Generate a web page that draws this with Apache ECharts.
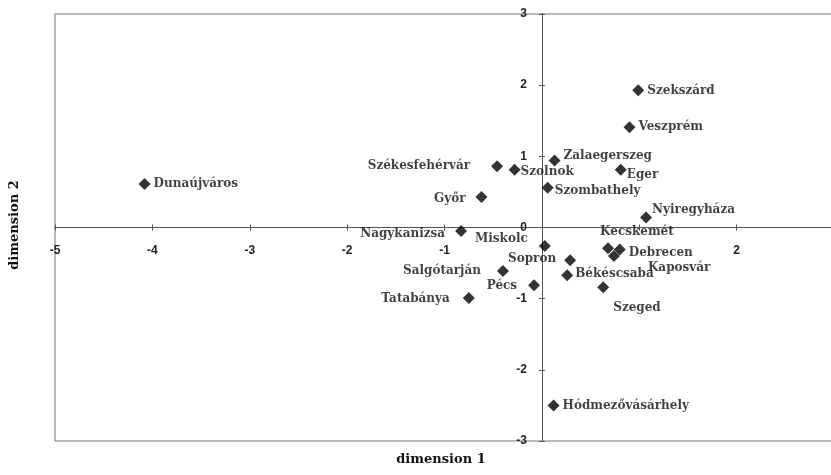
<!DOCTYPE html>
<html>
<head>
<meta charset="utf-8">
<script src="https://cdn.jsdelivr.net/npm/echarts@6/dist/echarts.min.js"></script>
<style>html,body{margin:0;padding:0;background:#fff}#c{width:831px;height:475px}</style>
</head>
<body>
<div id="c"></div>
<script>
const cities = ['Dunaújváros','Szekszárd','Veszprém','Zalaegerszeg','Székesfehérvár','Szolnok','Eger','Szombathely','Győr','Nyiregyháza','Nagykanizsa','Miskolc','Kecskemét','Debrecen','Kaposvár','Sopron','Salgótarján','Békéscsaba','Pécs','Szeged','Tatabánya','Hódmezővásárhely'];
const dim1 = [-4.08, 0.99, 0.90, 0.13, -0.46, -0.28, 0.81, 0.06, -0.62, 1.07, -0.83, 0.03, 0.68, 0.80, 0.74, 0.29, -0.40, 0.26, -0.08, 0.63, -0.75, 0.12];
const dim2 = [0.61, 1.93, 1.41, 0.94, 0.86, 0.81, 0.81, 0.56, 0.43, 0.14, -0.05, -0.26, -0.29, -0.31, -0.40, -0.46, -0.61, -0.67, -0.81, -0.84, -0.99, -2.50];
const xTicks = [-5, -4, -3, -2, -1, 0, 1, 2, 3];
const yTicks = [-3, -2, -1, 0, 1, 2, 3];
// x tick labels hidden behind point labels in the reference
const xHiddenTicks = [0, 1];

// label placement (style only)
const labelPlace = {
  'Dunaújváros': ['right', 1, 0],
  'Szekszárd': ['right', 1, 1],
  'Veszprém': ['right', 1, 0],
  'Zalaegerszeg': ['right', 1, -5],
  'Székesfehérvár': ['left', -19, 0],
  'Szolnok': ['right', -2, 2],
  'Eger': ['right', -2, 5],
  'Szombathely': ['right', -1, 3],
  'Győr': ['left', -8, 2],
  'Nyiregyháza': ['right', -2, -8],
  'Nagykanizsa': ['left', -8, 3],
  'Miskolc': ['left', -9, -7],
  'Kecskemét': ['right', -16, -16],
  'Debrecen': ['right', 1, 3],
  'Kaposvár': ['right', 26, 12],
  'Sopron': ['left', -6, -1],
  'Salgótarján': ['left', -14, 0],
  'Békéscsaba': ['right', 0, -1],
  'Pécs': ['left', -9, 1],
  'Szeged': ['right', 2, 21],
  'Tatabánya': ['left', -11, 1],
  'Hódmezővásárhely': ['right', 1, 0]
};

const W = 831, H = 475;
const G = {left: 55, top: 14, right: -3, bottom: 34};
const gw = W - G.left - G.right, gh = H - G.top - G.bottom;
const xMin = xTicks[0], xMax = xTicks[xTicks.length - 1];
const yMin = yTicks[0], yMax = yTicks[yTicks.length - 1];
// axis crossing at zero: shift axes from grid edges
const xShift = -gh * (0 - yMin) / (yMax - yMin);
const yShift = -gw * (0 - xMin) / (xMax - xMin);

const axisColor = '#555';
const tickFont = {fontFamily: 'Liberation Sans', fontWeight: 'bold', fontSize: 12, color: '#222'};

function xAx(inside, showLabel) {
  return {
    type: 'value', min: xMin, max: xMax, interval: 1, position: 'bottom', offset: xShift,
    axisLine: {onZero: false, lineStyle: {color: axisColor, width: 1}},
    axisTick: {show: true, inside: inside, length: 3, lineStyle: {color: axisColor}},
    axisLabel: showLabel ? Object.assign({margin: 17, hideOverlap: false, showMinLabel: true, showMaxLabel: true,
      formatter: v => (xHiddenTicks.indexOf(v) >= 0 ? '' : String(v))}, tickFont) : {show: false},
    splitLine: {show: false}
  };
}
function yAx(inside, showLabel) {
  return {
    type: 'value', min: yMin, max: yMax, interval: 1, position: 'left', offset: yShift,
    axisLine: {onZero: false, lineStyle: {color: axisColor, width: 1}},
    axisTick: {show: true, inside: inside, length: 3, lineStyle: {color: axisColor}},
    axisLabel: showLabel ? Object.assign({margin: 15, hideOverlap: false, showMinLabel: true, showMaxLabel: true}, tickFont) : {show: false},
    splitLine: {show: false}
  };
}

const chart = echarts.init(document.getElementById('c'), null, {renderer: 'canvas'});
chart.setOption({
  backgroundColor: '#fff',
  animation: false,
  grid: Object.assign({show: true, borderColor: '#777', borderWidth: 1, containLabel: false, outerBoundsMode: 'none'}, G),
  xAxis: [xAx(false, true), xAx(true, false)],
  yAxis: [yAx(false, true), yAx(true, false)],
  graphic: [
    {type: 'text', x: 441, y: 460, style: {text: 'dimension 1', align: 'center', verticalAlign: 'middle', fontFamily: 'DejaVu Serif', fontWeight: 'bold', fontSize: 13, fill: '#111'}},
    {type: 'text', x: 15, y: 225, rotation: Math.PI / 2, style: {text: 'dimension 2', align: 'center', verticalAlign: 'middle', fontFamily: 'DejaVu Serif', fontWeight: 'bold', fontSize: 13, fill: '#111'}}
  ],
  series: [{
    type: 'scatter',
    xAxisIndex: 0, yAxisIndex: 0,
    symbol: 'diamond',
    symbolSize: 12,
    itemStyle: {color: '#000'},
    label: {show: true, formatter: '{b}', distance: 2, color: '#111', fontFamily: 'DejaVu Serif', fontWeight: 'bold', fontSize: 12},
    data: cities.map((c, i) => {
      const p = labelPlace[c];
      return {name: c, value: [dim1[i], dim2[i]], label: {position: p[0], offset: [p[1], p[2]]}};
    })
  }]
});
</script>
</body>
</html>
